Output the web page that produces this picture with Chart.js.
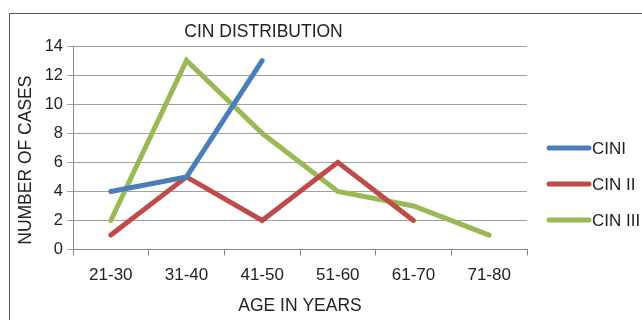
<!DOCTYPE html>
<html>
<head>
<meta charset="utf-8">
<script src="https://cdn.jsdelivr.net/npm/chart.js@4.4.1/dist/chart.umd.min.js"></script>
<style>
  html, body { margin: 0; padding: 0; background: #fff; }
  #frame { position: absolute; left: 9px; top: 13px; width: 700px; height: 400px; border: 1px solid #555; }
  #cinChart { position: absolute; left: 0; top: 0; }
</style>
</head>
<body>
<div id="frame"></div>
<canvas id="cinChart" width="642" height="320"></canvas>
<script>
const ageGroups = ["21-30", "31-40", "41-50", "51-60", "61-70", "71-80"];
const cin1 = [4, 5, 13, null, null, null];
const cin2 = [1, 5, 2, 6, 2, null];
const cin3 = [2, 13, 8, 4, 3, 1];
const yTicks = [0, 2, 4, 6, 8, 10, 12, 14];

const FONT = "'Liberation Sans', Arial, sans-serif";
const TEXT = "#222";

// legend drawn by hand, Excel style: thick line then label right next to it
const sideLegend = {
  id: "sideLegend",
  afterDraw(chart) {
    const ctx = chart.ctx;
    const rows = [148, 184, 220];
    ctx.save();
    ctx.font = "17px " + FONT;
    ctx.textBaseline = "middle";
    ctx.textAlign = "left";
    chart.data.datasets.forEach((ds, i) => {
      const y = rows[i];
      ctx.strokeStyle = ds.borderColor;
      ctx.lineWidth = 5;
      ctx.lineCap = "round";
      ctx.beginPath();
      ctx.moveTo(549, y);
      ctx.lineTo(589, y);
      ctx.stroke();
      ctx.fillStyle = TEXT;
      ctx.fillText(ds.label, 592, y + 1);
    });
    ctx.restore();
  }
};

function lineSet(label, data, color) {
  return {
    label: label,
    data: data,
    borderColor: color,
    backgroundColor: color,
    borderWidth: 5,
    borderCapStyle: "round",
    borderJoinStyle: "miter",
    pointRadius: 0,
    tension: 0,
    spanGaps: false
  };
}

new Chart(document.getElementById("cinChart"), {
  type: "line",
  data: {
    labels: ageGroups,
    datasets: [
      lineSet("CINI", cin1, "#4a7ebb"),
      lineSet("CIN II", cin2, "#be4b48"),
      lineSet("CIN III", cin3, "#98b954")
    ]
  },
  options: {
    responsive: false,
    animation: false,
    layout: { padding: { left: 0, right: 115, top: 0, bottom: 0 } },
    plugins: {
      legend: { display: false },
      tooltip: { enabled: false },
      title: {
        display: true,
        text: "CIN DISTRIBUTION",
        color: TEXT,
        font: { family: FONT, size: 17.5, weight: "normal" },
        padding: { top: 22, bottom: 3 }
      }
    },
    scales: {
      x: {
        offset: true,
        grid: { offset: true, drawOnChartArea: false, drawTicks: true, tickLength: 6, color: "#888" },
        border: { color: "#888" },
        ticks: { color: TEXT, font: { family: FONT, size: 17 }, padding: 10, maxRotation: 0 },
        title: {
          display: true,
          text: "AGE IN YEARS",
          color: TEXT,
          font: { family: FONT, size: 17.5 },
          padding: { top: 0, bottom: 3 }
        }
      },
      y: {
        min: 0,
        max: 14,
        afterBuildTicks(scale) {
          scale.ticks = yTicks.map((v) => ({ value: v }));
        },
        afterFit(scale) {
          scale.width = 73;
        },
        grid: { color: "#a0a0a0", tickLength: 6 },
        border: { color: "#888" },
        ticks: { color: TEXT, font: { family: FONT, size: 16.5 }, padding: 4 },
        title: {
          display: true,
          text: " NUMBER OF CASES",
          align: "start",
          color: TEXT,
          font: { family: FONT, size: 17.5 },
          padding: { top: 16, bottom: 4 }
        }
      }
    }
  },
  plugins: [sideLegend]
});
</script>
</body>
</html>
